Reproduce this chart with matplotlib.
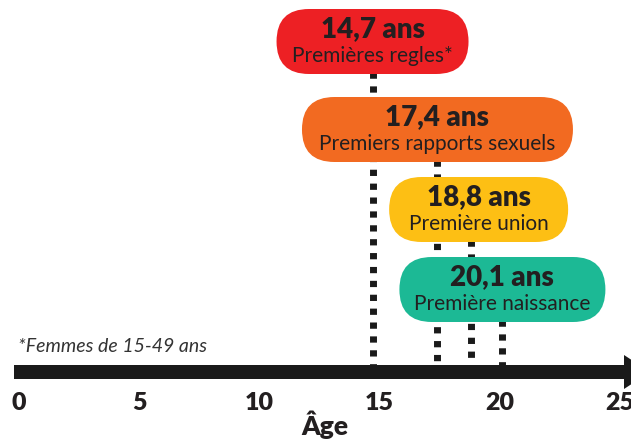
import matplotlib
matplotlib.use("Agg")
import matplotlib.pyplot as plt
from matplotlib.patches import FancyBboxPatch

# data
ages = [14.7, 17.4, 18.8, 20.1]
age_labels = ["14,7 ans", "17,4 ans", "18,8 ans", "20,1 ans"]
events = ["Premières regles*", "Premiers rapports sexuels", "Première union", "Première naissance"]
colors = ["#ED2024", "#F26A21", "#FDBF14", "#1CB995"]
tick_values = [0, 5, 10, 15, 20, 25]
footnote = "*Femmes de 15-49 ans"
axis_title = "Âge"

# layout (pixels, figure 631x440)
W, H = 631, 440
X0, PX_PER_YEAR = 19.0, 24.05          # pixel of age 0, pixels per year
box_tops = [9, 97, 177, 257]
box_widths = [192, 271, 179, 206]
box_shift = [0, 0, 7.5, 0]              # horizontal shift of box vs. its age (px)
BOX_H = 65
RADIUS = 32.5
BAR_TOP, BAR_BOT = 365, 379
DARK = "#231F20"


def px2age(p):
    return (p - X0) / PX_PER_YEAR


plt.rcParams["font.family"] = ["Lato", "DejaVu Sans"]
fig = plt.figure(figsize=(W / 100, H / 100), dpi=100)
ax = fig.add_axes([0, 0, 1, 1])
ax.set_xlim(px2age(0), px2age(W))
ax.set_ylim(H, 0)
ax.axis("off")

# dotted guide lines from each box down to the axis
for age, top in zip(ages, box_tops):
    ax.plot([age, age], [top + BOX_H - 2, BAR_TOP], color="#1a1a1a", lw=5,
            linestyle=(0, (0.9, 1.1)), solid_capstyle="butt", dash_capstyle="butt", zorder=1)

# rounded labels
for age, lab, ev, col, top, w, dx in zip(ages, age_labels, events, colors, box_tops, box_widths, box_shift):
    cx = age + dx / PX_PER_YEAR
    wa = w / PX_PER_YEAR
    box = FancyBboxPatch((cx - wa / 2, top), wa, BOX_H,
                         boxstyle=f"round,pad=0,rounding_size={RADIUS / PX_PER_YEAR}",
                         mutation_aspect=PX_PER_YEAR, fc=col, ec="none", zorder=3)
    ax.add_patch(box)
    ax.text(cx, top + 28, lab, ha="center", va="baseline", fontsize=20,
            fontweight="heavy", color=DARK, zorder=4)
    ax.text(cx, top + 53, ev, ha="center", va="baseline", fontsize=15,
            color=DARK, zorder=4)

# axis arrow
x_start = px2age(14)
x_head = px2age(624)
x_tip = px2age(650)
ax.fill([x_start, x_head, x_head, x_tip, x_head, x_head, x_start],
        [BAR_TOP, BAR_TOP, 355, (BAR_TOP + BAR_BOT) / 2, 389, BAR_BOT, BAR_BOT],
        color="#1a1a1a", lw=0, zorder=2)

for t in tick_values:
    ax.text(t, 410, str(t), ha="center", va="baseline", fontsize=18,
            fontweight="heavy", color=DARK)
ax.text(px2age(325), 435, axis_title, ha="center", va="baseline", fontsize=19,
        fontweight="heavy", color=DARK)

ax.text(px2age(18), 352, footnote, ha="left", va="baseline", fontsize=14,
        style="italic", color="#333333")

fig.savefig("out.png", dpi=100)
